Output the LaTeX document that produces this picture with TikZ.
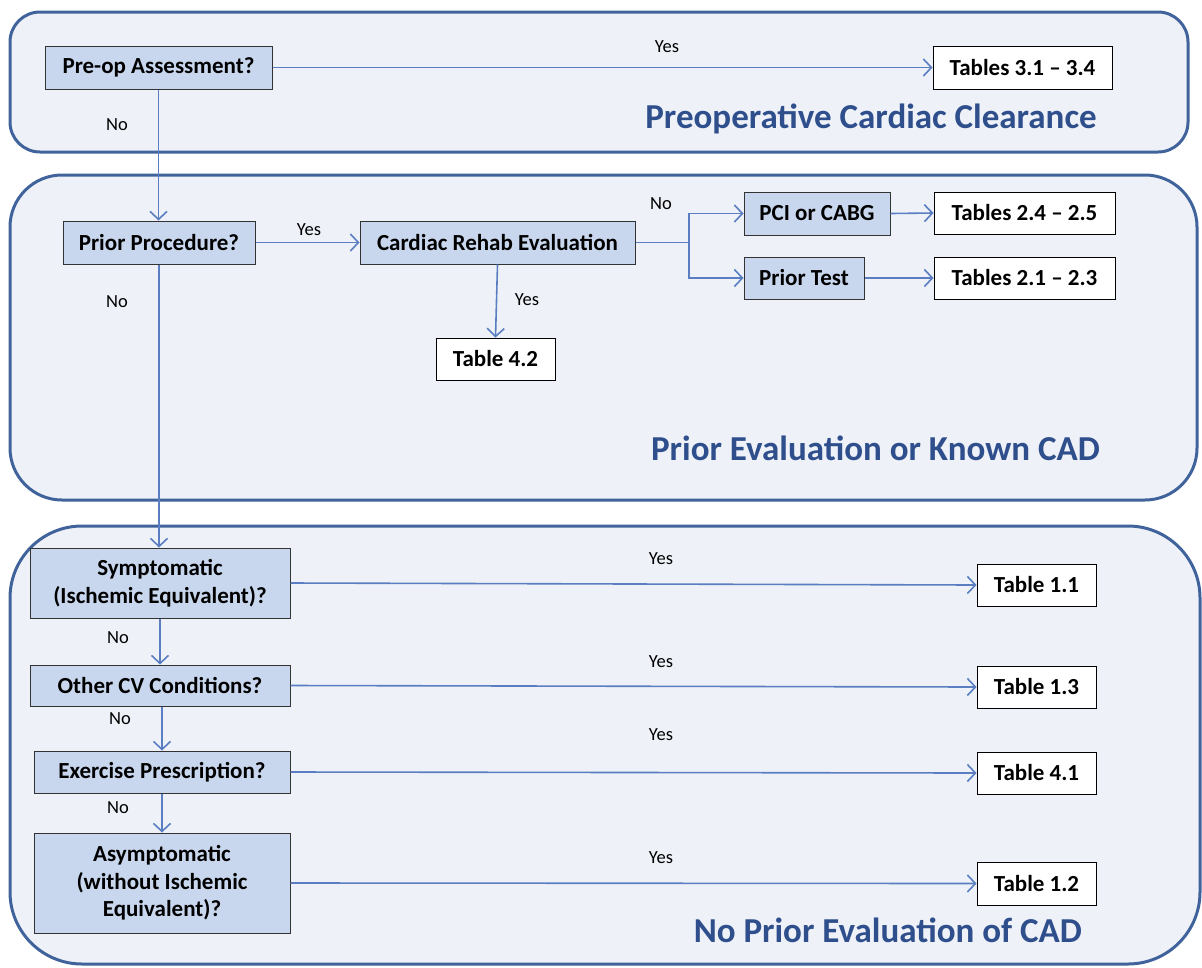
\documentclass[tikz,border=0pt]{standalone}
\usepackage{fontspec}
\setmainfont{Carlito}
\usetikzlibrary{arrows.meta}
\definecolor{panelfill}{HTML}{EEF2F8}
\definecolor{paneldraw}{HTML}{41639C}
\definecolor{qfill}{HTML}{C9D7EE}
\definecolor{arrcol}{HTML}{5A7EC1}
\definecolor{titlecol}{HTML}{2E4E8C}
\tikzset{
  panel/.style={draw=paneldraw, fill=panelfill, line width=3pt},
  qbox/.style={draw=black!80, fill=qfill, line width=1pt, inner sep=0pt, align=center,
     font=\fontsize{23}{27.5}\selectfont\bfseries},
  tbox/.style={draw=black, fill=white, line width=1pt, inner sep=0pt, align=center,
     font=\fontsize{23}{27.5}\selectfont\bfseries},
  arr/.style={draw=arrcol, line width=1.6pt, -{Straight Barb[length=8pt,width=17pt,line width=1.6pt]}},
  ln/.style={draw=arrcol, line width=1.6pt},
  lbl/.style={font=\fontsize{18.5}{22}\selectfont, inner sep=0pt},
  ttl/.style={font=\fontsize{35}{40}\selectfont\bfseries, text=titlecol, inner sep=0pt}
}
\begin{document}
\begin{tikzpicture}[x=1pt,y=-1pt]
\useasboundingbox (0,0) rectangle (1202,967);
% panels
\draw[panel, rounded corners=30pt] (10,12) rectangle (1188,152);
\draw[panel, rounded corners=52pt] (10,175) rectangle (1197,500);
\draw[panel, rounded corners=72pt] (10,526) rectangle (1200,964);
% titles
\node[ttl, anchor=east] (t1) at (1097,119) {Preoperative Cardiac Clearance};
\node[ttl, anchor=east] (t2) at (1100,448) {Prior Evaluation or Known CAD};
\node[ttl, anchor=east] (t3) at (1082,930) {No Prior Evaluation of CAD};
% nodes
\node[qbox, minimum width=227pt, minimum height=43pt] (pre) at (158.5,67.5) {Pre-op Assessment?};
\node[tbox, minimum width=179pt, minimum height=43pt] (t34) at (1022.5,67.5) {Tables 3.1 -- 3.4};
\node[qbox, minimum width=192pt, minimum height=43pt] (proc) at (159,242.5) {Prior Procedure?};
\node[qbox, minimum width=275pt, minimum height=43pt] (rehab) at (497.5,242.5) {Cardiac Rehab Evaluation};
\node[qbox, minimum width=146pt, minimum height=43pt] (pci) at (817,213.5) {PCI or CABG};
\node[qbox, minimum width=120pt, minimum height=42pt] (ptest) at (804,278) {Prior Test};
\node[tbox, minimum width=181pt, minimum height=42pt] (t25) at (1024.5,213) {Tables 2.4 -- 2.5};
\node[tbox, minimum width=181pt, minimum height=42pt] (t23) at (1024.5,278) {Tables 2.1 -- 2.3};
\node[tbox, minimum width=119pt, minimum height=42pt] (t42) at (495.5,359) {Table 4.2};
\node[qbox, minimum width=260pt, minimum height=70pt] (sym) at (160,583) {Symptomatic\\(Ischemic Equivalent)?};
\node[qbox, minimum width=260pt, minimum height=41pt] (cv) at (160,685.5) {Other CV Conditions?};
\node[qbox, minimum width=256pt, minimum height=42pt] (ex) at (162,772) {Exercise Prescription?};
\node[qbox, minimum width=256pt, minimum height=100pt] (asym) at (162,883) {Asymptomatic\\(without Ischemic\\Equivalent)?};
\node[tbox, minimum width=119pt, minimum height=42pt] (t11) at (1036.5,585) {Table 1.1};
\node[tbox, minimum width=119pt, minimum height=42pt] (t13) at (1036.5,687) {Table 1.3};
\node[tbox, minimum width=119pt, minimum height=42pt] (t41) at (1036.5,773) {Table 4.1};
\node[tbox, minimum width=119pt, minimum height=43pt] (t12) at (1036.5,883.5) {Table 1.2};
% connectors
\draw[arr] (pre.east) -- (t34.west);
\draw[arr] (pre.south) -- (pre.south |- proc.north);
\draw[arr] (proc.east) -- (rehab.west);
\draw[arr] (proc.south) -- (proc.south |- sym.north);
\coordinate (br) at (689,242.5);
\draw[ln] (rehab.east) -- (br);
\draw[arr] (br) |- (pci.west);
\draw[arr] (br) |- (ptest.west);
\draw[arr] (pci.east) -- (t25.west);
\draw[arr] (ptest.east) -- (t23.west);
\draw[arr] (rehab.south) -- (t42.north);
\draw[arr] (sym.east) -- (t11.west);
\draw[arr] (sym.south) -- (cv.north);
\draw[arr] (cv.east) -- (t13.west);
\draw[arr] (cv.south -| ex.north) -- (ex.north);
\draw[arr] (ex.east) -- (t41.west);
\draw[arr] (ex.south) -- (asym.north);
\draw[arr] (asym.east) -- (t12.west);
% labels
\node[lbl] (y1) at (667,47) {Yes};
\node[lbl] (n1) at (117,125) {No};
\node[lbl] (y2) at (309,230) {Yes};
\node[lbl] (n2) at (117,302) {No};
\node[lbl] (n3) at (661,204) {No};
\node[lbl] (y3) at (527,300) {Yes};
\node[lbl] (y4) at (661,559) {Yes};
\node[lbl] (n4) at (118,638) {No};
\node[lbl] (y5) at (661,662) {Yes};
\node[lbl] (n5) at (120,719) {No};
\node[lbl] (y6) at (661,735) {Yes};
\node[lbl] (n6) at (118,808) {No};
\node[lbl] (y7) at (661,858) {Yes};
\end{tikzpicture}
\end{document}
